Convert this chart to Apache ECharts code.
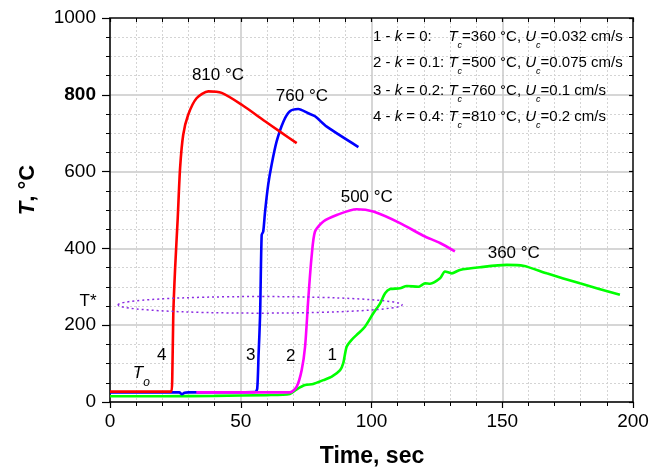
<!DOCTYPE html>
<html>
<head>
<meta charset="utf-8">
<script src="https://cdn.jsdelivr.net/npm/echarts@6/dist/echarts.min.js"></script>
<style>
  html, body { margin: 0; padding: 0; background: #fff; }
  #main { width: 666px; height: 470px; }
</style>
</head>
<body>
<div id="main"></div>
<script>
// 坐标轴刻度
var xTicks = [0, 50, 100, 150, 200]
var yTicks = [0, 200, 400, 600, 800, 1000]

// 曲线 1: k = 0, Tc = 360 °C  [时间 s, 温度 °C]
var curve1 = [[0, 15], [20, 15], [40, 16], [60, 18], [68.8, 21], [71.4, 33], [74.6, 44], [77.7, 47],
  [81.6, 57], [84.8, 66], [88, 83], [89.2, 101], [90.5, 144], [92.4, 162], [95, 179], [97.5, 196],
  [100.7, 231], [103.3, 257], [105.2, 283], [107.1, 294], [110.9, 296], [113.5, 302], [117.9, 300],
  [120.5, 309], [122.4, 308], [126.2, 322], [128.1, 340], [130.7, 335], [133.8, 344], [141.5, 351],
  [151.7, 357], [158, 355], [167, 335], [179.7, 309], [195, 279]]
// 曲线 2: k = 0.1, Tc = 500 °C
var curve2 = [[33, 25], [50, 25], [68.8, 25], [71.4, 40], [73.3, 83], [74.6, 144], [75.8, 266],
  [77.1, 379], [78.4, 444], [81.6, 470], [86.7, 487], [94.3, 502], [100.7, 496], [110.9, 466],
  [119.8, 433], [126.2, 414], [131.9, 392]]
// 曲线 3: k = 0.2, Tc = 760 °C
var curve3 = [[0, 25], [26.5, 25], [27.5, 20], [28.5, 24], [30, 25], [55.5, 26], [56.3, 35],
  [56.8, 120], [57.4, 227], [58, 435], [58.6, 444], [59.3, 496], [60.5, 566], [61.8, 618],
  [63.7, 678], [66.3, 730], [68.8, 757], [72, 763], [75.8, 752], [78.4, 744], [82.9, 717], [95, 664]]
// 曲线 4: k = 0.4, Tc = 810 °C
var curve4 = [[0, 27], [23.4, 27], [23.8, 60], [24.2, 227], [24.9, 348], [25.9, 479], [26.8, 609],
  [28, 696], [29.9, 748], [33.1, 791], [37.6, 809], [42.7, 805], [50.4, 774], [59.3, 731],
  [65, 704], [71.4, 674]]

// 图例文字
var legendLines = [
  ['1 - ', 'k', ' = 0:    ', '360', '0.032'],
  ['2 - ', 'k', ' = 0.1: ', '500', '0.075'],
  ['3 - ', 'k', ' = 0.2: ', '760', '0.1'],
  ['4 - ', 'k', ' = 0.4: ', '810', '0.2']
]

var FONT = '"Liberation Sans", Arial, sans-serif'
var gridColor = '#c8c8c8'

var myChart = echarts.init(document.getElementById('main'))

function xAxisCfg(top) {
  return {
    type: 'value', min: 0, max: 200, interval: 50,
    position: top ? 'top' : 'bottom',
    axisLine: { show: true, onZero: false, lineStyle: { color: top ? '#444' : '#000', width: top ? 2 : 1.5 } },
    axisTick: { show: true, inside: top, length: top ? 4 : 6, lineStyle: { color: '#000', width: 1.2 } },
    minorTick: { show: true, splitNumber: 5, length: 4, lineStyle: { color: '#000', width: 1 } },
    axisLabel: {
      show: !top, color: '#000', fontSize: 19, fontFamily: FONT, margin: 10,
      formatter: function (v) { return xTicks.indexOf(v) >= 0 ? String(v) : '' }
    },
    splitLine: { show: !top, lineStyle: { color: gridColor, width: 1.5 } },
    minorSplitLine: { show: !top, lineStyle: { color: '#d4d4d4', type: [2, 2], width: 1 } }
  }
}

function yAxisCfg(right) {
  return {
    type: 'value', min: 0, max: 1000, interval: 200,
    position: right ? 'right' : 'left',
    axisLine: { show: true, onZero: false, lineStyle: { color: right ? '#444' : '#000', width: right ? 2 : 1.5 } },
    axisTick: { show: true, inside: right, length: right ? 4 : 8, lineStyle: { color: '#000', width: 1.2 } },
    minorTick: { show: true, splitNumber: 4, length: 4, lineStyle: { color: '#000', width: 1 } },
    axisLabel: {
      show: !right, color: '#000', fontSize: 19, fontFamily: FONT, margin: 14,
      formatter: function (v) { return v === 800 ? '{b|800}' : String(v) },
      rich: { b: { fontSize: 19, fontWeight: 'bold', fontFamily: FONT, color: '#000' } }
    },
    splitLine: { show: !right, lineStyle: { color: gridColor, width: 1.5 } },
    minorSplitLine: { show: !right, lineStyle: { color: '#d4d4d4', type: [2, 2], width: 1 } }
  }
}

function lineSeries(name, data, color) {
  return {
    name: name, type: 'line', data: data, showSymbol: false, symbol: 'none',
    xAxisIndex: 0, yAxisIndex: 0, smooth: 0.25,
    lineStyle: { color: color, width: 2.6 }, itemStyle: { color: color }
  }
}

var option = {
  animation: false,
  backgroundColor: '#fff',
  grid: { left: 110, right: 33, top: 18, bottom: 68 },
  xAxis: [xAxisCfg(false), xAxisCfg(true)],
  yAxis: [yAxisCfg(false), yAxisCfg(true)],
  series: [
    lineSeries('1', curve1, '#00ff00'),
    lineSeries('3', curve3, '#0000ff'),
    lineSeries('2', curve2, '#ff00ff'),
    lineSeries('4', curve4, '#ff0000')
  ]
}
myChart.setOption(option)

// 数据坐标 -> 像素
function px(t, T) {
  return myChart.convertToPixel({ xAxisIndex: 0, yAxisIndex: 0 }, [t, T])
}

function textAt(t, T, text, size, extra) {
  var p = px(t, T)
  var style = {
    text: text, x: p[0], y: p[1], fill: '#000',
    font: (size || 17) + 'px ' + FONT, align: 'center', verticalAlign: 'middle'
  }
  if (extra) for (var k in extra) style[k] = extra[k]
  return { type: 'text', z: 100, style: style }
}

var graphics = []

// T* 区域椭圆
var c = px(57.4, 253), e = px(111.7, 253), r = px(57.4, 274.6)
graphics.push({
  type: 'ellipse', z: 50,
  shape: { cx: c[0], cy: c[1], rx: e[0] - c[0], ry: c[1] - r[1] },
  style: { fill: 'none', stroke: '#8a2be2', lineWidth: 1.5, lineDash: [2, 3] }
})

// 峰值标注
graphics.push(textAt(41.3, 852, '810 °C'))
graphics.push(textAt(73.4, 795, '760 °C'))
graphics.push(textAt(98.2, 533, '500 °C'))
graphics.push(textAt(154.4, 387, '360 °C'))
// 曲线编号
graphics.push(textAt(19.8, 122, '4'))
graphics.push(textAt(53.8, 122, '3'))
graphics.push(textAt(69.1, 120, '2'))
graphics.push(textAt(85, 122, '1'))
// T* 与 To
graphics.push(textAt(-8.4, 261, 'T*', 17))
graphics.push(textAt(12, 75, '{i|T}{s|o}', 17, {
  rich: {
    i: { font: 'italic 17px ' + FONT, fill: '#000', lineHeight: 30 },
    s: { font: 'italic 12px ' + FONT, fill: '#000', verticalAlign: 'bottom', lineHeight: 30 }
  }
}))

// 图例（右上角）
var legY = [36.7, 63.3, 90.7, 116.7]
var richLeg = {
  n: { font: '15px ' + FONT, fill: '#000', lineHeight: 26 },
  i: { font: 'italic 15px ' + FONT, fill: '#000', lineHeight: 26 },
  s: { font: 'italic 9px ' + FONT, fill: '#000', lineHeight: 26, verticalAlign: 'bottom' }
}
legendLines.forEach(function (l, i) {
  var txt = '{n|' + l[0] + '}{i|' + l[1] + '}{n|' + l[2] + '}{i|T}{s|c}{n|=' + l[3] + ' °C, }{i|U}{s|c}{n|=' + l[4] + ' cm/s}'
  graphics.push({
    type: 'text', z: 100,
    style: { text: txt, x: 373, y: legY[i], align: 'left', verticalAlign: 'middle', rich: richLeg }
  })
})

// 轴名
graphics.push({
  type: 'text', z: 100,
  style: {
    text: 'Time, sec', x: 372, y: 457, align: 'center', verticalAlign: 'middle',
    font: 'bold 23px ' + FONT, fill: '#000'
  }
})
graphics.push({
  type: 'text', z: 100, x: 28, y: 190, rotation: Math.PI / 2,
  style: {
    text: '{i|T}{b|, °C}', align: 'center', verticalAlign: 'middle',
    rich: {
      i: { font: 'italic bold 22px ' + FONT, fill: '#000' },
      b: { font: 'bold 22px ' + FONT, fill: '#000' }
    }
  }
})

myChart.setOption({ graphic: graphics })
</script>
</body>
</html>
